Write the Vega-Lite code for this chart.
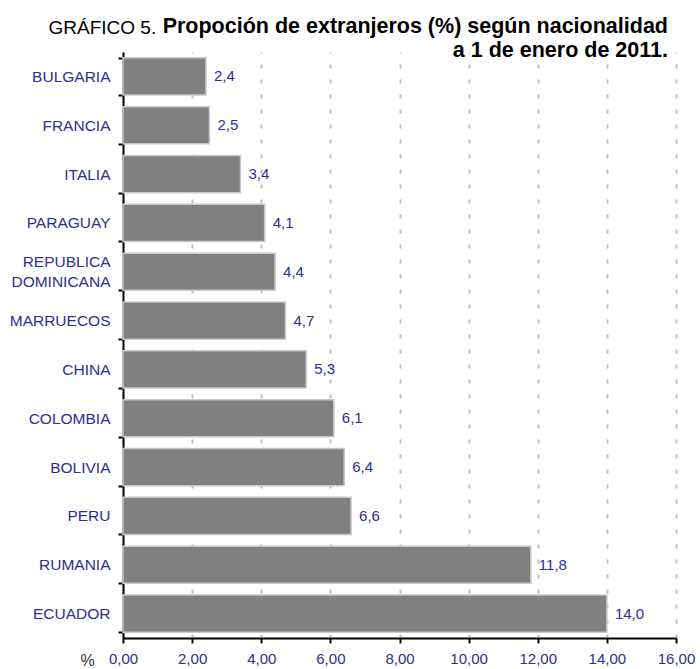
{
  "$schema": "https://vega.github.io/schema/vega-lite/v6.json",
  "width": 553,
  "height": 586,
  "autosize": {"type": "none"},
  "padding": {"left": 123, "top": 52, "right": 24, "bottom": 31},
  "background": "white",
  "title": {
    "text": ["Propoción de extranjeros (%) según nacionalidad", "a 1 de enero de 2011."],
    "anchor": "end",
    "align": "right",
    "frame": "group",
    "font": "Liberation Sans",
    "fontSize": 21.5,
    "fontWeight": "bold",
    "color": "black",
    "lineHeight": 24,
    "dx": -8,
    "offset": -43
  },
  "data": {
    "values": [
      {"pais": "BULGARIA", "valor": 2.4},
      {"pais": "FRANCIA", "valor": 2.5},
      {"pais": "ITALIA", "valor": 3.4},
      {"pais": "PARAGUAY", "valor": 4.1},
      {"pais": "REPUBLICA DOMINICANA", "valor": 4.4},
      {"pais": "MARRUECOS", "valor": 4.7},
      {"pais": "CHINA", "valor": 5.3},
      {"pais": "COLOMBIA", "valor": 6.1},
      {"pais": "BOLIVIA", "valor": 6.4},
      {"pais": "PERU", "valor": 6.6},
      {"pais": "RUMANIA", "valor": 11.8},
      {"pais": "ECUADOR", "valor": 14.0}
    ]
  },
  "encoding": {
    "y": {
      "field": "pais",
      "type": "nominal",
      "sort": null,
      "scale": {"paddingInner": 0.24, "paddingOuter": 0.12},
      "axis": {
        "title": "GRÁFICO 5.",
        "titleAngle": 0,
        "titleAlign": "left",
        "titleBaseline": "alphabetic",
        "titleX": -75,
        "titleY": -19,
        "titleFont": "Liberation Sans",
        "titleFontSize": 19,
        "titleFontWeight": "normal",
        "titleColor": "black",
        "tickBand": "extent",
        "tickSize": 5,
        "tickWidth": 2,
        "tickColor": "black",
        "domainColor": "black",
        "domainWidth": 2,
        "labelPadding": 8,
        "labelFont": "Liberation Sans",
        "labelFontSize": 15.5,
        "labelColor": "#2e2e94",
        "labelLineHeight": 20,
        "labelOffset": {"condition": {"test": "datum.value == 'REPUBLICA DOMINICANA'", "value": -10}, "value": 0},
        "labelExpr": "datum.value == 'REPUBLICA DOMINICANA' ? ['REPUBLICA', 'DOMINICANA'] : datum.value",
        "grid": false
      }
    },
    "x": {
      "field": "valor",
      "type": "quantitative",
      "scale": {"domain": [0, 16], "nice": false},
      "axis": {
        "values": [0, 2, 4, 6, 8, 10, 12, 14, 16],
        "format": ".2f",
        "title": "%",
        "titleX": -36,
        "titleY": 27,
        "titleAlign": "center",
        "titleBaseline": "alphabetic",
        "titleFont": "Liberation Sans",
        "titleFontSize": 16,
        "titleFontWeight": "normal",
        "titleColor": "#333333",
        "tickSize": 5,
        "tickWidth": 2,
        "tickColor": "black",
        "domainColor": "black",
        "domainWidth": 2,
        "labelPadding": 8,
        "labelFont": "Liberation Sans",
        "labelFontSize": 15,
        "labelColor": "#2e2e94",
        "labelFlush": false,
        "grid": true,
        "gridColor": "#c0c0c0",
        "gridWidth": 2,
        "gridDash": [4, 11]
      }
    }
  },
  "layer": [
    {
      "mark": {"type": "bar", "color": "#808080", "stroke": "#c8c8c8", "strokeWidth": 1.5}
    },
    {
      "mark": {"type": "text", "align": "left", "baseline": "middle", "dx": 8, "font": "Liberation Sans", "fontSize": 15, "color": "#2e2e94"},
      "encoding": {
        "text": {"field": "valor", "type": "quantitative", "format": ".1f"}
      }
    }
  ],
  "config": {
    "view": {"stroke": null},
    "locale": {
      "number": {"decimal": ",", "thousands": ".", "grouping": [3], "currency": ["", " €"]}
    }
  }
}
